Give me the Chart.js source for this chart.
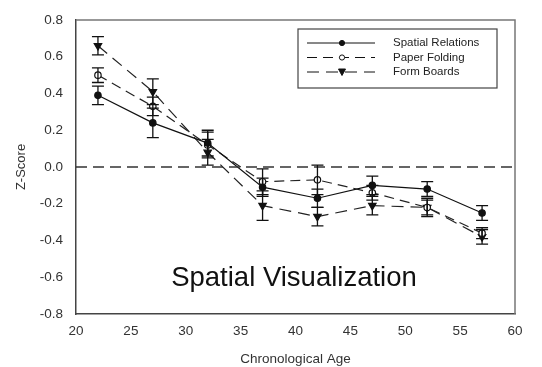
<!DOCTYPE html>
<html>
<head>
<meta charset="utf-8">
<script src="https://cdn.jsdelivr.net/npm/chart.js@4"></script>
<style>
  html, body { margin: 0; padding: 0; background: #fff; }
  #wrap { width: 542px; height: 367px; }
</style>
</head>
<body>
<div id="wrap"><canvas id="chart" width="542" height="367"></canvas></div>
<script>
// Ages on the x axis
const ages = [22, 27, 32, 37, 42, 47, 52, 57];

// Mean z-scores for each test
const spatialRelations = [0.39, 0.24, 0.13, -0.11, -0.17, -0.10, -0.12, -0.25];
const paperFolding     = [0.50, 0.33, 0.12, -0.08, -0.07, -0.14, -0.22, -0.36];
const formBoards       = [0.66, 0.41, 0.08, -0.21, -0.27, -0.21, -0.22, -0.38];

// Error bar half-widths
const spatialRelationsErr = [0.05, 0.08, 0.07, 0.05, 0.05, 0.05, 0.04, 0.04];
const paperFoldingErr     = [0.04, 0.05, 0.07, 0.07, 0.08, 0.04, 0.04, 0.03];
const formBoardsErr       = [0.05, 0.07, 0.07, 0.08, 0.05, 0.05, 0.05, 0.04];

const seriesNames = ['Spatial Relations', 'Paper Folding', 'Form Boards'];
const yTicks = [-0.8, -0.6, -0.4, -0.2, 0.0, 0.2, 0.4, 0.6, 0.8];
const xTicks = [20, 25, 30, 35, 40, 45, 50, 55, 60];

const FONT = 'Liberation Sans, Arial, sans-serif';

function toPoints(values) {
    return values.map((v, i) => ({ x: ages[i], y: v }));
}

// Draws vertical error bars for each series
const errorBars = {
    id: 'errorBars',
    afterDatasetsDraw(chart) {
        const ctx = chart.ctx;
        const xs = chart.scales.x, ys = chart.scales.y;
        chart.data.datasets.forEach(ds => {
            if (!ds.errors) return;
            ctx.save();
            ctx.strokeStyle = '#111';
            ctx.lineWidth = 1.3;
            ctx.setLineDash([]);
            ds.data.forEach((p, i) => {
                const px = xs.getPixelForValue(p.x);
                const top = ys.getPixelForValue(p.y + ds.errors[i]);
                const bot = ys.getPixelForValue(p.y - ds.errors[i]);
                ctx.beginPath();
                ctx.moveTo(px, top); ctx.lineTo(px, bot);
                ctx.moveTo(px - 6, top); ctx.lineTo(px + 6, top);
                ctx.moveTo(px - 6, bot); ctx.lineTo(px + 6, bot);
                ctx.stroke();
            });
            ctx.restore();
        });
    }
};

// Frame, inner title and legend box
const decorations = {
    id: 'decorations',
    afterDraw(chart) {
        const ctx = chart.ctx;
        const a = chart.chartArea;
        ctx.save();
        // top and right frame
        ctx.strokeStyle = '#777';
        ctx.lineWidth = 1.5;
        ctx.beginPath();
        ctx.moveTo(a.left, a.top); ctx.lineTo(a.right, a.top); ctx.lineTo(a.right, a.bottom);
        ctx.stroke();

        // inner title
        ctx.fillStyle = '#111';
        ctx.font = '27.5px ' + FONT;
        ctx.textAlign = 'center';
        ctx.textBaseline = 'middle';
        ctx.fillText('Spatial Visualization', 294, 278);

        // legend box
        const bx = 298, by = 29, bw = 199, bh = 59;
        ctx.strokeStyle = '#444';
        ctx.lineWidth = 1.2;
        ctx.strokeRect(bx, by, bw, bh);
        ctx.font = '11.5px ' + FONT;
        ctx.textAlign = 'left';
        chart.data.datasets.filter(ds => ds.errors).forEach((ds, i) => {
            const ly = by + 14 + i * 14.5;
            ctx.strokeStyle = '#111';
            ctx.lineWidth = 1;
            ctx.setLineDash(ds.borderDash || []);
            ctx.beginPath();
            ctx.moveTo(bx + 9, ly); ctx.lineTo(bx + 77, ly);
            ctx.stroke();
            ctx.setLineDash([]);
            const mx = bx + 44;
            ctx.fillStyle = ds.pointBackgroundColor;
            ctx.beginPath();
            if (ds.pointStyle === 'triangle') {
                ctx.moveTo(mx - 3.5, ly - 3); ctx.lineTo(mx + 3.5, ly - 3); ctx.lineTo(mx, ly + 3.5);
                ctx.closePath();
            } else {
                ctx.arc(mx, ly, 2.6, 0, Math.PI * 2);
            }
            ctx.fill();
            ctx.stroke();
            ctx.fillStyle = '#222';
            ctx.fillText(seriesNames[i], bx + 95, ly);
        });
        ctx.restore();
    }
};

new Chart(document.getElementById('chart').getContext('2d'), {
    type: 'line',
    data: {
        datasets: [
            {
                label: 'zero',
                data: [{ x: 20, y: 0 }, { x: 60, y: 0 }],
                borderColor: '#333',
                borderWidth: 1.3,
                borderDash: [11, 6],
                pointRadius: 0
            },
            {
                label: seriesNames[0],
                data: toPoints(spatialRelations),
                errors: spatialRelationsErr,
                borderColor: '#111',
                borderWidth: 1.2,
                pointStyle: 'circle',
                pointRadius: 3.2,
                pointBackgroundColor: '#111',
                pointBorderColor: '#111'
            },
            {
                label: seriesNames[1],
                data: toPoints(paperFolding),
                errors: paperFoldingErr,
                borderColor: '#222',
                borderWidth: 1.2,
                borderDash: [10, 6],
                pointStyle: 'circle',
                pointRadius: 3.2,
                pointBackgroundColor: '#fff',
                pointBorderColor: '#111'
            },
            {
                label: seriesNames[2],
                data: toPoints(formBoards),
                errors: formBoardsErr,
                borderColor: '#222',
                borderWidth: 1.2,
                borderDash: [12, 7],
                pointStyle: 'triangle',
                rotation: 180,
                pointRadius: 4.3,
                pointBackgroundColor: '#111',
                pointBorderColor: '#111'
            }
        ]
    },
    options: {
        responsive: false,
        animation: false,
        layout: { padding: { top: 20, right: 27, left: 14, bottom: 0 } },
        plugins: {
            legend: { display: false },
            tooltip: { enabled: false }
        },
        scales: {
            x: {
                type: 'linear',
                min: 20, max: 60,
                afterBuildTicks: axis => { axis.ticks = xTicks.map(v => ({ value: v })); },
                afterFit: axis => { axis.height = 53; },
                grid: { display: false, drawTicks: true },
                border: { color: '#444', width: 1.5 },
                ticks: {
                    color: '#333',
                    font: { family: FONT, size: 13.5 },
                    padding: 1,
                    maxRotation: 0
                },
                title: {
                    display: true,
                    text: 'Chronological Age',
                    color: '#333',
                    font: { family: FONT, size: 13.5 },
                    padding: { top: 6, bottom: 0 }
                }
            },
            y: {
                min: -0.8, max: 0.8,
                afterBuildTicks: axis => { axis.ticks = yTicks.map(v => ({ value: v })); },
                afterFit: axis => { axis.width = 62; },
                grid: { display: false },
                border: { color: '#444', width: 1.5 },
                ticks: {
                    color: '#333',
                    font: { family: FONT, size: 13.5 },
                    padding: 5,
                    callback: v => v.toFixed(1)
                },
                title: {
                    display: true,
                    text: 'Z-Score',
                    color: '#333',
                    font: { family: FONT, size: 13 },
                    padding: { top: 0, bottom: 0 }
                }
            }
        }
    },
    plugins: [errorBars, decorations]
});
</script>
</body>
</html>
